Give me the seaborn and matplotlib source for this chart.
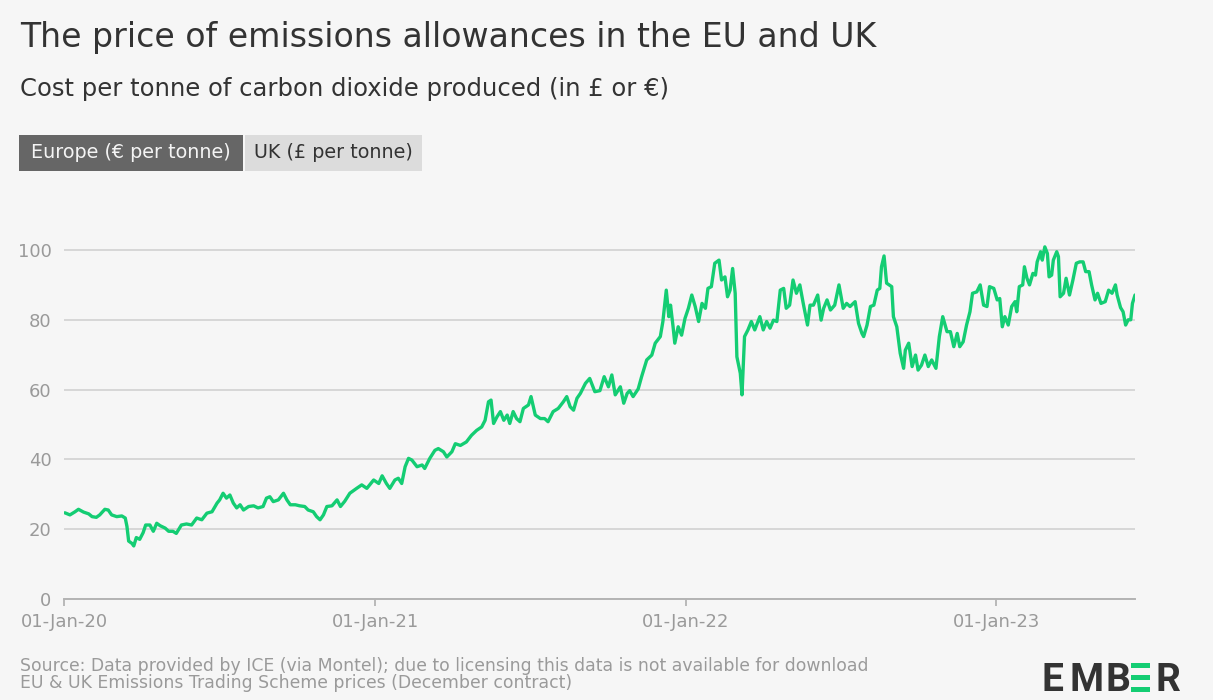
import matplotlib
matplotlib.use("Agg")
import matplotlib.pyplot as plt
from matplotlib.patches import Rectangle
import pandas as pd
import seaborn as sns

# EU allowance price (December contract), EUR per tonne of CO2
dates = [
    "2020-01-02", "2020-01-08", "2020-01-14", "2020-01-18", "2020-01-24", "2020-01-30",
    "2020-02-03", "2020-02-08", "2020-02-12", "2020-02-18", "2020-02-22", "2020-02-26",
    "2020-03-03", "2020-03-09", "2020-03-13", "2020-03-15", "2020-03-17", "2020-03-21",
    "2020-03-23", "2020-03-26", "2020-03-30", "2020-04-03", "2020-04-06", "2020-04-11",
    "2020-04-15", "2020-04-19", "2020-04-23", "2020-04-29", "2020-05-03", "2020-05-08",
    "2020-05-12", "2020-05-18", "2020-05-24", "2020-05-30", "2020-06-05", "2020-06-11",
    "2020-06-17", "2020-06-23", "2020-06-29", "2020-07-02", "2020-07-06", "2020-07-10",
    "2020-07-14", "2020-07-18", "2020-07-22", "2020-07-26", "2020-07-30", "2020-08-05",
    "2020-08-11", "2020-08-16", "2020-08-22", "2020-08-26", "2020-08-30", "2020-09-03",
    "2020-09-09", "2020-09-15", "2020-09-19", "2020-09-23", "2020-09-29", "2020-10-04",
    "2020-10-10", "2020-10-14", "2020-10-20", "2020-10-24", "2020-10-28", "2020-11-01",
    "2020-11-05", "2020-11-11", "2020-11-17", "2020-11-21", "2020-11-26", "2020-12-02",
    "2020-12-10", "2020-12-16", "2020-12-22", "2020-12-30",
    "2021-01-05", "2021-01-09", "2021-01-14", "2021-01-18", "2021-01-24", "2021-01-28",
    "2021-02-01", "2021-02-05", "2021-02-09", "2021-02-13", "2021-02-19", "2021-02-25",
    "2021-02-28", "2021-03-06", "2021-03-12", "2021-03-16", "2021-03-22", "2021-03-26",
    "2021-04-01", "2021-04-05", "2021-04-11", "2021-04-18", "2021-04-24", "2021-04-30",
    "2021-05-06", "2021-05-10", "2021-05-14", "2021-05-17", "2021-05-20", "2021-05-24",
    "2021-05-28", "2021-06-01", "2021-06-05", "2021-06-08", "2021-06-12", "2021-06-16",
    "2021-06-20", "2021-06-24", "2021-06-30", "2021-07-03", "2021-07-08", "2021-07-14",
    "2021-07-19", "2021-07-23", "2021-07-29", "2021-08-04", "2021-08-10", "2021-08-14",
    "2021-08-18", "2021-08-22", "2021-08-26", "2021-08-30", "2021-09-05", "2021-09-10",
    "2021-09-16", "2021-09-22", "2021-09-27", "2021-10-02", "2021-10-06", "2021-10-10",
    "2021-10-16", "2021-10-20", "2021-10-24", "2021-10-27", "2021-10-31", "2021-11-06",
    "2021-11-10", "2021-11-16", "2021-11-22", "2021-11-26", "2021-12-02", "2021-12-05",
    "2021-12-09", "2021-12-12", "2021-12-14", "2021-12-17", "2021-12-19", "2021-12-23",
    "2021-12-27", "2021-12-31",
    "2022-01-04", "2022-01-08", "2022-01-12", "2022-01-16", "2022-01-20", "2022-01-24",
    "2022-01-27", "2022-01-31", "2022-02-04", "2022-02-09", "2022-02-12", "2022-02-16",
    "2022-02-19", "2022-02-22", "2022-02-25", "2022-02-28", "2022-03-02", "2022-03-06",
    "2022-03-08", "2022-03-11", "2022-03-15", "2022-03-19", "2022-03-23", "2022-03-29",
    "2022-04-02", "2022-04-06", "2022-04-10", "2022-04-14", "2022-04-18", "2022-04-22",
    "2022-04-26", "2022-04-29", "2022-05-03", "2022-05-07", "2022-05-11", "2022-05-15",
    "2022-05-19", "2022-05-24", "2022-05-27", "2022-05-31", "2022-06-05", "2022-06-09",
    "2022-06-12", "2022-06-16", "2022-06-20", "2022-06-25", "2022-06-30", "2022-07-05",
    "2022-07-09", "2022-07-13", "2022-07-19", "2022-07-23", "2022-07-27", "2022-07-29",
    "2022-08-02", "2022-08-06", "2022-08-10", "2022-08-14", "2022-08-17", "2022-08-19",
    "2022-08-22", "2022-08-25", "2022-08-28", "2022-08-31", "2022-09-02", "2022-09-06",
    "2022-09-10", "2022-09-14", "2022-09-16", "2022-09-20", "2022-09-24", "2022-09-28",
    "2022-10-01", "2022-10-05", "2022-10-09", "2022-10-13", "2022-10-17", "2022-10-22",
    "2022-10-26", "2022-10-30", "2022-11-04", "2022-11-08", "2022-11-12", "2022-11-16",
    "2022-11-19", "2022-11-23", "2022-11-27", "2022-12-01", "2022-12-04", "2022-12-09",
    "2022-12-13", "2022-12-17", "2022-12-21", "2022-12-24", "2022-12-29",
    "2023-01-02", "2023-01-05", "2023-01-08", "2023-01-11", "2023-01-15", "2023-01-19",
    "2023-01-23", "2023-01-25", "2023-01-28", "2023-02-01", "2023-02-03", "2023-02-06",
    "2023-02-09", "2023-02-13", "2023-02-16", "2023-02-18", "2023-02-22", "2023-02-24",
    "2023-02-27", "2023-03-02", "2023-03-04", "2023-03-07", "2023-03-09", "2023-03-13",
    "2023-03-15", "2023-03-17", "2023-03-21", "2023-03-24", "2023-03-28", "2023-04-01",
    "2023-04-05", "2023-04-09", "2023-04-13", "2023-04-16", "2023-04-20", "2023-04-23",
    "2023-04-27", "2023-04-30", "2023-05-04", "2023-05-09", "2023-05-13", "2023-05-17",
    "2023-05-21", "2023-05-23", "2023-05-27", "2023-05-30", "2023-06-02", "2023-06-05",
    "2023-06-08", "2023-06-10", "2023-06-13",
]

eu_price = [
    24.7, 24.1, 25.0, 25.7, 24.9, 24.4,
    23.6, 23.4, 24.1, 25.7, 25.5, 24.1,
    23.6, 23.8, 23.2, 20.8, 16.6, 15.9,
    15.2, 17.6, 17.1, 19.0, 21.2, 21.2,
    19.4, 21.7, 21.0, 20.3, 19.4, 19.4,
    18.8, 21.2, 21.5, 21.2, 23.2, 22.7,
    24.6, 25.0, 27.5, 28.4, 30.3, 28.9,
    29.8, 27.5, 26.1, 27.0, 25.5, 26.5,
    26.7, 26.1, 26.5, 28.9, 29.3, 27.9,
    28.4, 30.3, 28.4, 27.0, 27.0, 26.7,
    26.5, 25.5, 25.0, 23.6, 22.7, 24.1,
    26.5, 26.7, 28.4, 26.5, 28.0, 30.3,
    31.7, 32.7, 31.7, 34.1,
    33.1, 35.3, 33.1, 31.7, 34.1, 34.6,
    33.1, 37.9, 40.3, 39.8, 37.9, 38.4,
    37.4, 40.3, 42.6, 43.1, 42.2, 40.7,
    42.2, 44.5, 44.0, 45.0, 46.9, 48.3,
    49.3, 51.2, 56.5, 57.0, 50.3, 52.2,
    53.7, 51.2, 52.7, 50.3, 53.7, 51.7,
    50.8, 54.6, 55.6, 58.0, 52.7, 51.7,
    51.7, 50.8, 53.7, 54.6, 56.5, 58.0,
    55.1, 54.1, 57.5, 58.9, 61.8, 63.2,
    59.4, 59.7, 63.7, 60.8, 64.2, 58.5,
    60.8, 56.1, 58.9, 59.7, 58.0, 60.2,
    63.7, 68.5, 69.9, 73.3, 75.2, 79.5,
    88.5, 80.9, 84.2, 78.0, 73.3, 78.0,
    75.6, 80.4,
    83.3, 87.1, 83.8, 79.5, 84.7, 83.3,
    89.0, 89.5, 96.2, 97.1, 91.4, 92.3,
    86.6, 88.5, 94.7, 87.6, 69.4, 64.7,
    58.5, 75.2, 77.1, 79.5, 77.1, 80.9,
    77.1, 79.5, 77.6, 79.9, 79.5, 88.5,
    89.0, 83.3, 84.2, 91.4, 87.6, 90.0,
    84.7, 78.5, 84.2, 84.2, 87.1, 79.9,
    83.3, 85.7, 82.8, 84.2, 90.0, 83.3,
    84.7, 83.8, 85.2, 79.0, 76.1, 75.2,
    78.5, 83.8, 84.2, 88.5, 89.0, 95.2,
    98.3, 90.5, 90.0, 89.5, 80.9, 78.0,
    70.4, 66.1, 71.3, 73.3, 66.6, 69.9,
    65.6, 67.0, 69.9, 66.6, 68.5, 66.1,
    75.2, 80.9, 76.6, 76.6, 72.3, 76.1,
    72.3, 73.7, 78.5, 82.3, 87.6, 88.0,
    90.0, 84.2, 83.8, 89.5, 89.0,
    85.7, 86.1, 78.0, 80.9, 78.5, 83.8,
    85.2, 82.3, 89.5, 90.0, 95.2, 91.9,
    90.0, 93.3, 92.8, 96.6, 99.5, 97.1,
    100.9, 99.0, 92.3, 92.8, 97.1, 99.5,
    98.1, 86.6, 87.6, 91.9, 87.1, 91.4,
    96.2, 96.6, 96.6, 93.8, 93.8, 90.0,
    85.7, 87.6, 84.7, 85.2, 88.5, 87.6,
    90.0, 87.1, 83.5, 82.3, 78.5, 80.0,
    80.0, 84.7, 87.1,
]

y_ticks = [0, 20, 40, 60, 80, 100]
x_tick_dates = ["2020-01-01", "2021-01-01", "2022-01-01", "2023-01-01"]
x_tick_labels = ["01-Jan-20", "01-Jan-21", "01-Jan-22", "01-Jan-23"]
toggle_labels = ["Europe (€ per tonne)", "UK (£ per tonne)"]

title = "The price of emissions allowances in the EU and UK"
subtitle = "Cost per tonne of carbon dioxide produced (in £ or €)"
source_lines = [
    "Source: Data provided by ICE (via Montel); due to licensing this data is not available for download",
    "EU & UK Emissions Trading Scheme prices (December contract)",
]

BG = "#f6f6f6"
GREEN = "#14cd73"
GRID = "#d4d4d4"
MUTED = "#9a9a9a"
DARK = "#333333"

sns.set_theme(style="white")
plt.rcParams["font.family"] = ["DejaVu Sans"]

W, H = 1213, 700
fig = plt.figure(figsize=(W / 100, H / 100), dpi=100, facecolor=BG)


def fx(px):
    return px / W


def fy(py):
    return 1 - py / H


# plot area: y=0 at 599 px, 3.49 px per unit, from 64 px to 1135 px
y_top = 105
ax = fig.add_axes([fx(64), fy(599), fx(1135 - 64), y_top * 3.49 / H])
ax.set_facecolor(BG)

df = pd.DataFrame({"date": pd.to_datetime(dates), "price": eu_price})
sns.lineplot(data=df, x="date", y="price", ax=ax, color=GREEN,
             linewidth=2.4, solid_joinstyle="round", zorder=3)

ax.set_xlim(pd.Timestamp("2020-01-01"), pd.Timestamp(dates[-1]))
ax.set_ylim(0, y_top)
ax.set_yticks(y_ticks)
ax.set_yticklabels([str(v) for v in y_ticks])
ax.set_xticks(pd.to_datetime(x_tick_dates))
ax.set_xticklabels(x_tick_labels)
ax.set_xlabel("")
ax.set_ylabel("")

ax.set_axisbelow(True)
ax.grid(axis="y", color=GRID, linewidth=1.3)
ax.grid(axis="x", visible=False)
for side in ["left", "right", "top"]:
    ax.spines[side].set_visible(False)
ax.spines["bottom"].set_color("#b4b4b4")
ax.spines["bottom"].set_linewidth(1.4)

ax.tick_params(axis="y", left=False, length=0, pad=9, labelsize=13,
               labelcolor=MUTED)
ax.tick_params(axis="x", bottom=True, direction="out", length=5, width=1.3,
               color="#b4b4b4", pad=5, labelsize=13, labelcolor=MUTED)

# headings
fig.text(fx(20), fy(47), title, fontsize=23.9, color=DARK, va="baseline", ha="left")
fig.text(fx(20), fy(96), subtitle, fontsize=17.5, color=DARK, va="baseline", ha="left")

# series toggle
boxes = [(19, 243, "#666666", "#f4f4f4"), (245, 422, "#dcdcdc", DARK)]
for (x0, x1, face, txt), label in zip(boxes, toggle_labels):
    fig.add_artist(Rectangle((fx(x0), fy(171)), fx(x1 - x0), (171 - 135) / H,
                             transform=fig.transFigure, facecolor=face,
                             edgecolor="none"))
    fig.text(fx((x0 + x1) / 2), fy(153), label, fontsize=13.8, color=txt,
             ha="center", va="center")

# footer
fig.text(fx(20), fy(671), source_lines[0], fontsize=12.4, color=MUTED, va="baseline")
fig.text(fx(20), fy(687.5), source_lines[1], fontsize=12.4, color=MUTED, va="baseline")

# wordmark
logo_kw = dict(fontsize=28, fontweight="bold", color=DARK, va="baseline",
               ha="left", family=["Roboto", "DejaVu Sans"])
for letter, x0 in [("E", 1042), ("M", 1069), ("B", 1105), ("R", 1155)]:
    fig.text(fx(x0), fy(691), letter, **logo_kw)
for ytop in (663, 675, 687):
    fig.add_artist(Rectangle((fx(1131), fy(ytop + 4.5)), fx(19), 4.5 / H,
                             transform=fig.transFigure, facecolor=GREEN,
                             edgecolor="none"))

fig.savefig("out.png", dpi=100, facecolor=BG)
